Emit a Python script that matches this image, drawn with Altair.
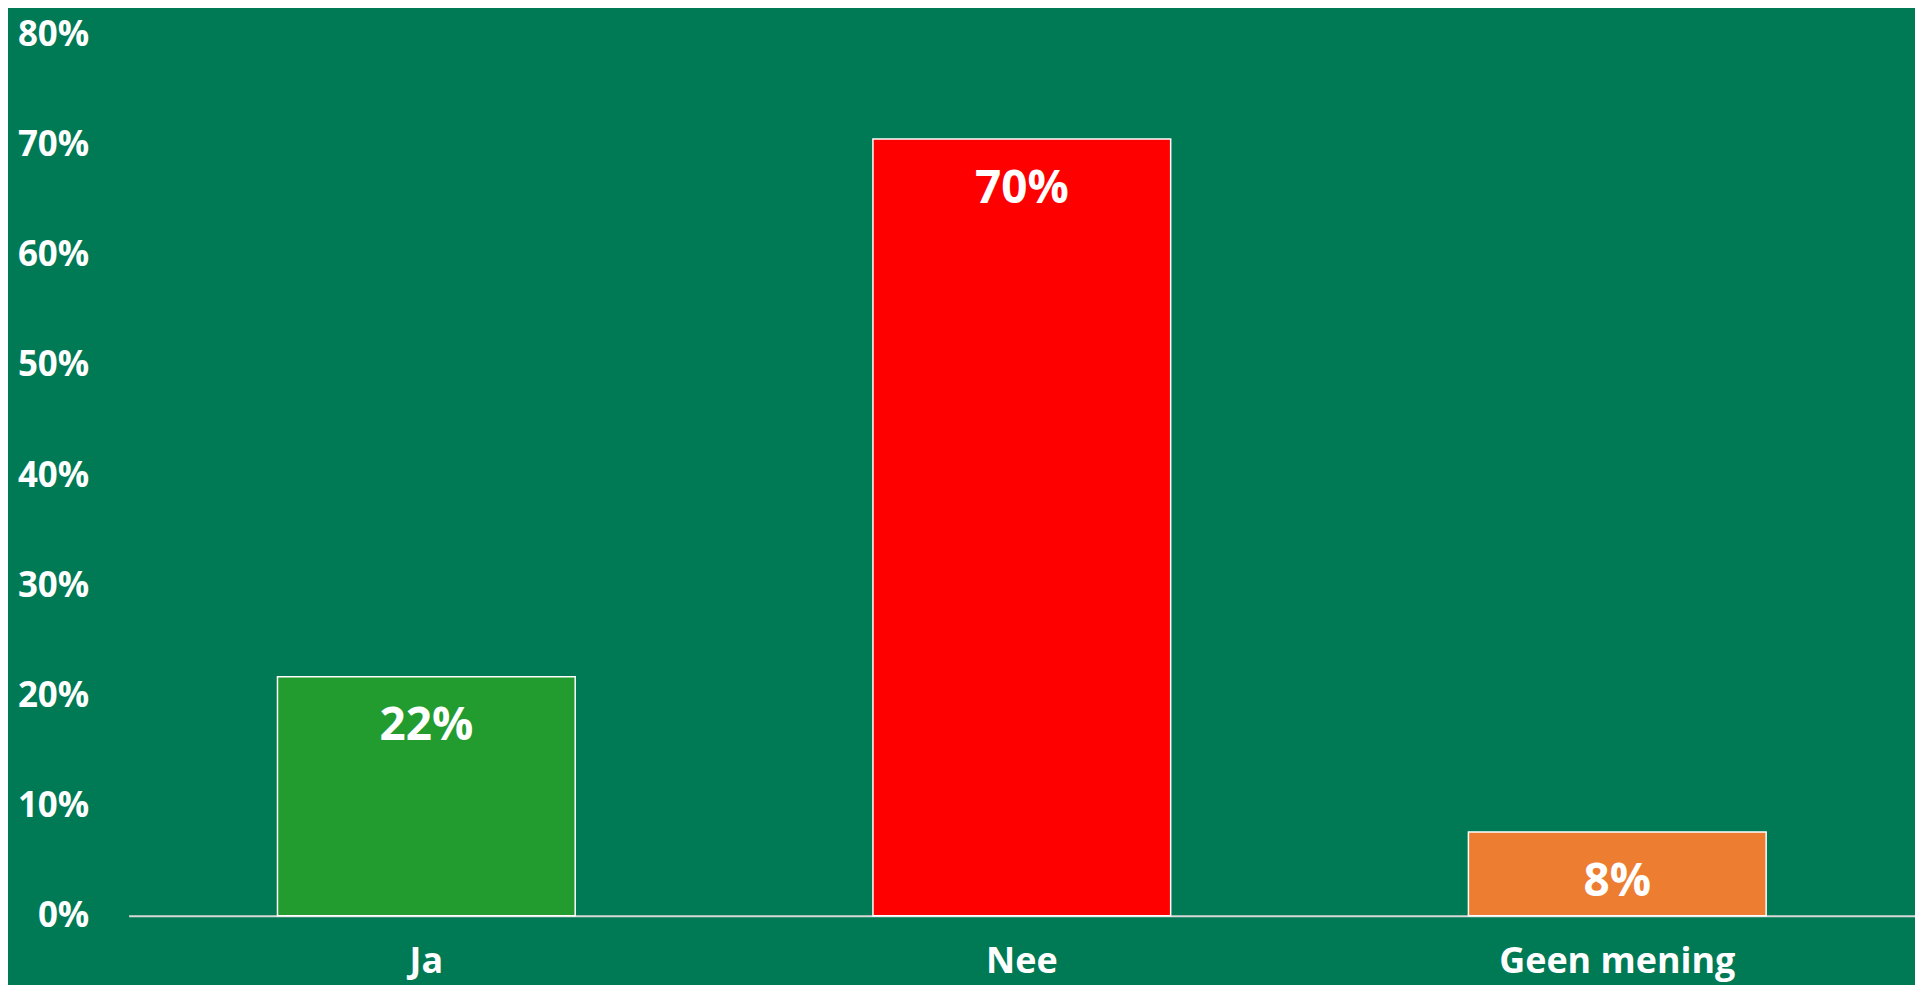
import altair as alt
import pandas as pd

categories = ["Ja", "Nee", "Geen mening"]
values = [21.7, 70.5, 7.6]
labels = ["22%", "70%", "8%"]
colors = ["#229B2F", "#FF0000", "#ED7D31"]

df = pd.DataFrame({"cat": categories, "val": values, "lab": labels, "col": colors})

FONT = "Open Sans"

x = alt.X("cat:N", sort=categories, title=None,
          scale=alt.Scale(paddingInner=0.5, paddingOuter=0.25),
          axis=alt.Axis(labelAngle=0, labelFont=FONT, labelFontWeight="bold",
                        labelFontSize=36, labelColor="white", ticks=False,
                        labelLimit=1000,
                        domainColor="#d9d9d9", domainWidth=2, labelPadding=29))
y = alt.Y("val:Q", title=None,
          scale=alt.Scale(domain=[0, 80], nice=False),
          axis=alt.Axis(values=[0, 10, 20, 30, 40, 50, 60, 70, 80],
                        labelExpr="datum.value + '%'", grid=False, ticks=False,
                        domain=False, labelFont=FONT, labelFontWeight="bold",
                        labelFontSize=35, labelColor="white", labelPadding=40))

bars = alt.Chart(df).mark_bar(stroke="white", strokeWidth=1.5).encode(
    x=x, y=y, color=alt.Color("col:N", scale=None))

text = alt.Chart(df).mark_text(font=FONT, fontWeight="bold", fontSize=46,
                               color="white", baseline="middle", dy=50).encode(
    x=alt.X("cat:N", sort=categories), y="val:Q", text="lab:N")

chart = (bars + text).properties(
    width=1792, height=884,
    autosize=alt.AutoSizeParams(type="none"),
    padding={"left": 121, "top": 25, "right": 0, "bottom": 68},
    background="#007A55",
).configure_view(stroke=None)

chart.save("out.html", embed_options={"renderer": "svg", "actions": False})
